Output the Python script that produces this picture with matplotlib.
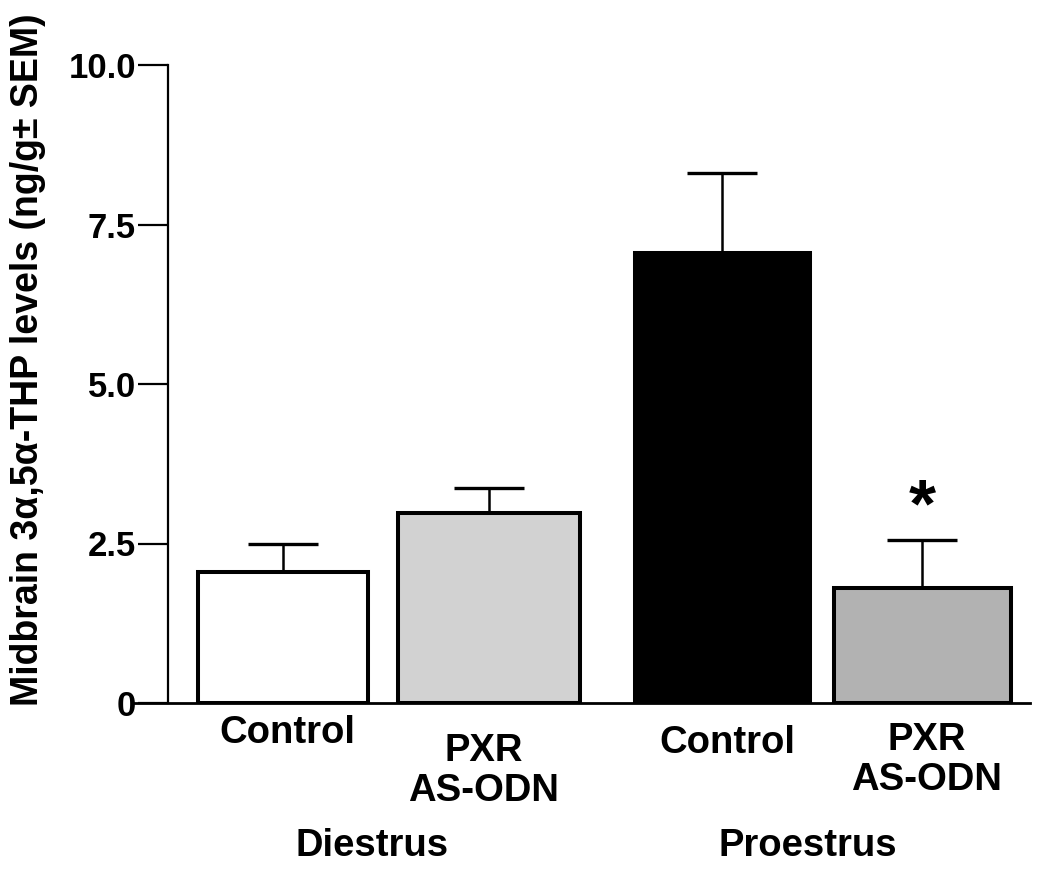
import matplotlib
matplotlib.use('Agg')
import matplotlib.pyplot as plt
import matplotlib.transforms as mtransforms

plt.rcParams['font.family'] = ['Liberation Sans', 'DejaVu Sans']
plt.rcParams['font.weight'] = 'bold'

# ---- data ----
groups = ['Diestrus', 'Proestrus']
treatment_lines = [['Control'], ['PXR', 'AS-ODN'], ['Control'], ['PXR', 'AS-ODN']]
means = [2.05, 2.98, 7.05, 1.80]
sems = [0.45, 0.39, 1.25, 0.75]
significant = [False, False, False, True]
yticks = [0, 2.5, 5.0, 7.5, 10.0]
ytick_labels = ['0', '2.5', '5.0', '7.5', '10.0']
ylabel = 'Midbrain 3\u03b1,5\u03b1-THP levels (ng/g\u00b1 SEM)'

# ---- layout / style ----
W, H = 1050, 873
bar_x = [283, 489, 722, 922]
bar_w = [170, 182, 175, 177]
face = ['white', '#d2d2d2', 'black', '#b2b2b2']
label_x = [287, 484, 727, 927]
label_top = [715, 733, 725, 722]
line_pitch = 40
group_x = [372, 808]
group_top = 828

fig = plt.figure(figsize=(W / 100, H / 100), dpi=100)


def px(x0, y0, x1, y1):
    return [x0 / W, 1 - y1 / H, (x1 - x0) / W, (y1 - y0) / H]


ax = fig.add_axes(px(132, 65, 1030, 703))
ax.set_xlim(132, 1030)
ax.set_ylim(0, 10)

for s in ['top', 'right']:
    ax.spines[s].set_visible(False)
ax.spines['left'].set_position(('data', 168))
ax.spines['left'].set_linewidth(1.6)
ax.spines['bottom'].set_linewidth(2.0)

ax.bar(bar_x, means, width=bar_w, color=face, edgecolor='black',
       linewidth=2.9, zorder=3)
ax.errorbar(bar_x, means, yerr=[[0] * len(means), sems], fmt='none',
            ecolor='black', elinewidth=1.8, capsize=25, capthick=2.4, zorder=2)

ax.set_xticks([])
ax.set_yticks(yticks)
ax.set_yticklabels(ytick_labels)
ax.tick_params(axis='y', length=21.6, width=1.6, pad=1.5, labelsize=25)
for t in ax.get_yticklabels():
    t.set_fontweight('bold')

trans = mtransforms.blended_transform_factory(ax.transData, fig.transFigure)
for i, lines in enumerate(treatment_lines):
    for j, line in enumerate(lines):
        ax.text(label_x[i], 1 - (label_top[i] + j * line_pitch) / H, line,
                transform=trans, ha='center', va='top', fontsize=27.5,
                fontweight='bold', clip_on=False)
for gx, g in zip(group_x, groups):
    ax.text(gx, 1 - group_top / H, g, transform=trans, ha='center', va='top',
            fontsize=27.5, fontweight='bold', clip_on=False)

for i, sig in enumerate(significant):
    if sig:
        ax.text(bar_x[i], means[i] + sems[i] + 0.22, '*', ha='center',
                va='baseline', fontsize=50, fontweight='bold')

fig.text(28 / W, 1 - 360 / H, ylabel, rotation=90, ha='center', va='center',
         fontsize=27, fontweight='bold')

fig.savefig('out.png', dpi=100)
